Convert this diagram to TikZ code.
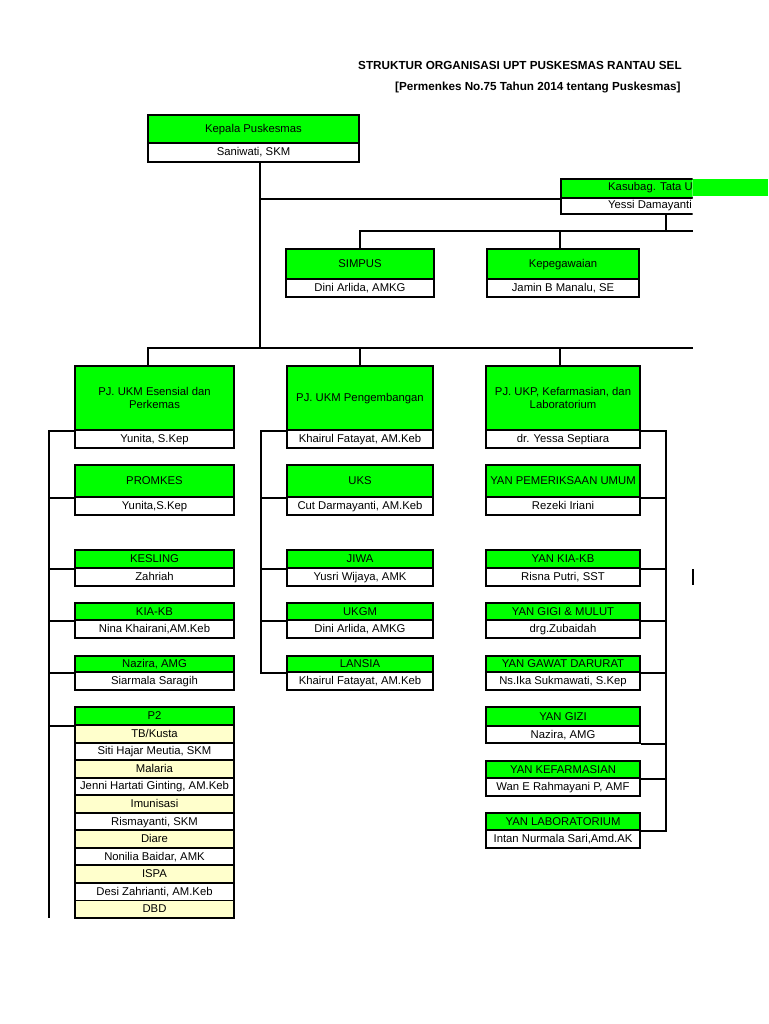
\documentclass[tikz,border=0pt]{standalone}
\usepackage{fontspec}
\setmainfont{Liberation Sans}
\definecolor{xgreen}{RGB}{0,255,0}
\definecolor{xcream}{RGB}{255,255,204}
\newcommand\unitbox[8]{% name, x1, x2, ytop, ymid, ybot, title, person
  \node[hdr, minimum width={(#3-#2)*1pt}, minimum height={(#5-#4)*1pt}] (#1) at ({(#2+#3)/2},{(#4+#5)/2}) {#7};
  \node[per, minimum width={(#3-#2)*1pt}, minimum height={(#6-#5)*1pt}] (#1-p) at ({(#2+#3)/2},{(#5+#6)/2}) {#8};
}
\begin{document}
\begin{tikzpicture}[x=1pt,y=-1pt,
  cell/.style={draw=black, line width=1.9pt, inner sep=0pt, align=center, text height=8.2pt, text depth=1.2pt, font=\fontsize{11.3}{13}\selectfont},
  hdr/.style={cell, fill=xgreen},
  per/.style={cell, fill=white},
  conn/.style={line width=1.9pt, black},
  lbl/.style={inner sep=0pt, text height=8.2pt, text depth=1.2pt, font=\fontsize{11.3}{13}\selectfont},
  ttl/.style={inner sep=0pt, font=\fontsize{11.7}{14}\selectfont\bfseries}]
\useasboundingbox (0,0) rectangle (768,1024);
\fill[white] (0,0) rectangle (768,1024);

% titles
\node[ttl, anchor=west] (title1) at (358,65) {STRUKTUR ORGANISASI UPT PUSKESMAS RANTAU SEL};
\node[ttl, anchor=west] (title2) at (395,87.5) {[Permenkes No.75 Tahun 2014 tentang Puskesmas]};

% top
\unitbox{kepala}{148}{359}{115}{143}{162}{Kepala Puskesmas}{Saniwati, SKM}
\begin{scope}
  \clip (0,0) rectangle (692.5,1024);
  \node[hdr, minimum width=160pt, minimum height=19pt, anchor=north west] (kasubag) at (560,178) {};
  \node[per, minimum width=160pt, minimum height=16pt, anchor=north west] (kasubag-p) at (560,197) {};
  \node[lbl, anchor=west] (kasubag-t) at (608,187.5) {Kasubag. Tata U};
  \node[lbl, anchor=east] (kasubag-pt) at (692,205) {Yessi Damayanti};
\end{scope}
\fill[xgreen] (692.5,179) rectangle (768,196);

\unitbox{simpus}{286}{434}{249}{279}{297}{SIMPUS}{Dini Arlida, AMKG}
\unitbox{kepeg}{487}{639}{249}{279}{297}{Kepegawaian}{Jamin B Manalu, SE}

% level 2
\begin{scope}[hdr/.append style={text height={}, text depth={}}]
\unitbox{esensial}{75}{234}{366}{430}{448}{PJ. UKM Esensial dan\\Perkemas}{Yunita, S.Kep}
\unitbox{ukp}{486}{640}{366}{430}{448}{PJ. UKP, Kefarmasian, dan\\Laboratorium}{dr. Yessa Septiara}
\end{scope}
\unitbox{pengemb}{287}{433}{366}{430}{448}{PJ. UKM Pengembangan}{Khairul Fatayat, AM.Keb}

% left column
\unitbox{promkes}{75}{234}{465}{497}{515}{PROMKES}{Yunita,S.Kep}
\unitbox{kesling}{75}{234}{550}{568}{586}{KESLING}{Zahriah}
\unitbox{kiakb}{75}{234}{603}{620}{638}{KIA-KB}{Nina Khairani,AM.Keb}
\unitbox{nazira}{75}{234}{656}{672}{690}{Nazira, AMG}{Siarmala Saragih}
\node[hdr, minimum width=159pt, minimum height=18pt] (p2) at (154.5,716) {P2};
\foreach \t [count=\i] in {TB/Kusta, {Siti Hajar Meutia, SKM}, Malaria, {Jenni Hartati Ginting, AM.Keb}, Imunisasi, {Rismayanti, SKM}, Diare, {Nonilia Baidar, AMK}, ISPA, {Desi Zahrianti, AM.Keb}, DBD}{
  \pgfmathsetmacro\yc{725+17.545*(\i-0.5)}
  \pgfmathtruncatemacro\odd{mod(\i,2)}
  \ifnum\odd=1 \def\cf{xcream}\else\def\cf{white}\fi
  \node[cell, fill=\cf, minimum width=159pt, minimum height=17.545pt] (p2r\i) at (154.5,\yc) {\t};
}

% middle column
\unitbox{uks}{287}{433}{465}{497}{515}{UKS}{Cut Darmayanti, AM.Keb}
\unitbox{jiwa}{287}{433}{550}{568}{586}{JIWA}{Yusri Wijaya, AMK}
\unitbox{ukgm}{287}{433}{603}{620}{638}{UKGM}{Dini Arlida, AMKG}
\unitbox{lansia}{287}{433}{656}{672}{690}{LANSIA}{Khairul Fatayat, AM.Keb}

% right column
\unitbox{yanumum}{486}{640}{465}{497}{515}{YAN PEMERIKSAAN UMUM}{Rezeki Iriani}
\unitbox{yankia}{486}{640}{550}{568}{586}{YAN KIA-KB}{Risna Putri, SST}
\unitbox{yangigi}{486}{640}{603}{620}{638}{YAN GIGI \& MULUT}{drg.Zubaidah}
\unitbox{yangawat}{486}{640}{656}{672}{690}{YAN GAWAT DARURAT}{Ns.Ika Sukmawati, S.Kep}
\unitbox{yangizi}{486}{640}{707}{726}{743}{YAN GIZI}{Nazira, AMG}
\unitbox{yanfarm}{486}{640}{761}{778}{796}{YAN KEFARMASIAN}{Wan E Rahmayani P, AMF}
\unitbox{yanlab}{486}{640}{813}{830}{848}{YAN LABORATORIUM}{Intan Nurmala Sari,Amd.AK}

% coordinates
\coordinate (spine) at (260,348);
\coordinate (xl) at (148,0);
\coordinate (xr) at (560,0);
\coordinate (mainend) at (692.5,348);
\coordinate (kasdrop) at (666,231);
\coordinate (stafend) at (692.5,231);
\coordinate (lbus) at (49,0);
\coordinate (lbusend) at (49,918);
\coordinate (mbus) at (261,0);
\coordinate (rbus) at (666,0);

% connectors
\draw[conn] (kepala-p.south -| spine) -- (spine);
\draw[conn] (kasubag.south west -| spine) -- (kasubag.south west);
\draw[conn] (kasubag-p.south -| kasdrop) -- (kasdrop);
\draw[conn] (simpus.north) -- (simpus.north |- kasdrop) -- (stafend);
\draw[conn] (kepeg.north -| xr) -- (kasdrop -| xr);
\draw[conn] (esensial.north -| xl) -- (spine -| xl) -- (mainend);
\draw[conn] (pengemb.north) -- (pengemb.north |- spine);
\draw[conn] (ukp.north -| xr) -- (spine -| xr);

\draw[conn] (esensial.south west) -- (esensial.south west -| lbus) -- (lbusend);
\foreach \n in {promkes,kesling,kiakb,nazira,p2}
  \draw[conn] (\n.south west) -- (\n.south west -| lbus);

\draw[conn] (pengemb.south west) -- (pengemb.south west -| mbus) -- (lansia.south west -| mbus) -- (lansia.south west);
\foreach \n in {uks,jiwa,ukgm}
  \draw[conn] (\n.south west) -- (\n.south west -| mbus);

\draw[conn] (ukp.south east) -- (ukp.south east -| rbus) -- (yanlab.south east -| rbus) -- (yanlab.south east);
\foreach \n in {yanumum,yankia,yangigi,yangawat,yanfarm,yangizi-p}
  \draw[conn] (\n.south east) -- (\n.south east -| rbus);

% stray mark
\coordinate (mk1) at (693,569);
\coordinate (mk2) at (693,585);
\draw[line width=1.9pt] (mk1) -- (mk2);
\end{tikzpicture}
\end{document}
